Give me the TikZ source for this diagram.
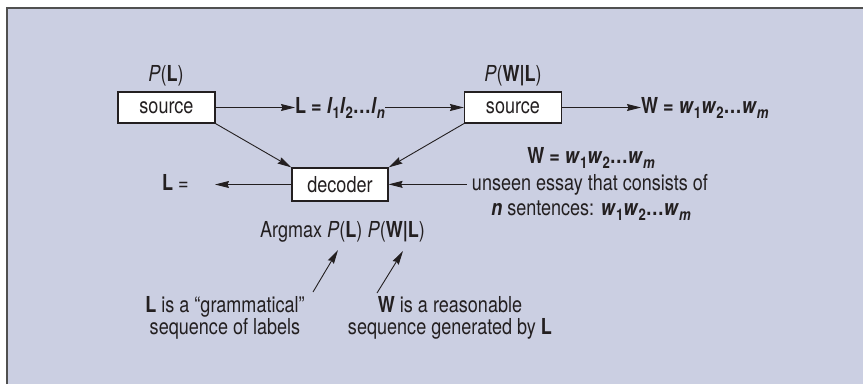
\documentclass[tikz,border=0pt]{standalone}
\usepackage{fontspec}
\setmainfont{TeX Gyre Heros}[FakeStretch=0.82]
\usetikzlibrary{arrows.meta}
\definecolor{bg}{RGB}{203,207,226}
\definecolor{ink}{RGB}{35,31,32}
\definecolor{framec}{RGB}{80,80,80}
\newcommand\lsub[1]{\raisebox{-0.25em}{\fontsize{16}{16}\selectfont #1}}
\newcommand\bi[1]{\textbf{\textit{#1}}}
\begin{document}
\begin{tikzpicture}[x=1pt,y=-1pt,
  every node/.style={text=ink, font=\fontsize{22}{25}\selectfont, inner sep=0pt},
  box/.style={draw=ink, fill=white, line width=1.2pt, minimum width=97pt, minimum height=31pt},
  arr/.style={draw=ink, line width=0.9pt, -{Stealth[length=14pt,width=7pt,inset=1.5pt]}}]
\useasboundingbox (0,0) rectangle (863,384);
\fill[white] (0,0) rectangle (863,384);
\fill[bg] (7,8) rectangle (863,384);
\draw[framec, line width=1.5pt] (7,384) -- (7,8) -- (863,8);

% boxes
\node[box] (src1) at (166.5,107.5) {source};
\node[box] (src2) at (513,107.5) {source};
\node[box, minimum width=96pt, minimum height=33pt] (dec) at (340,184.5) {decoder};

% labels above boxes
\node[anchor=base] (pl) at (166,81) {\textit{P}(\textbf{L})};
\node[anchor=base] (pwl) at (513,81) {\textit{P}(\textbf{W|L})};

% sequences
\node[anchor=base west] (lseq) at (295,113) {\textbf{L = }\bi{l}\lsub{\textbf{1}}\bi{l}\lsub{\textbf{2}}\textbf{\ldots}\bi{l}\lsub{\bi{n}}};
\node[anchor=base west] (wseq) at (641,113) {\textbf{W = }\bi{w}\lsub{\textbf{1}}\bi{w}\lsub{\textbf{2}}\textbf{\ldots}\bi{w}\lsub{\bi{m}}};

\draw[arr] (src1.east) -- (lseq.west |- src1.east);
\draw[arr] (lseq.east |- src2.west) -- (src2.west);
\draw[arr] (src2.east) -- (wseq.west |- src2.east);

% into decoder
\draw[arr] (src1.south east) -- (dec.north west);
\draw[arr] (src2.south west) -- (dec.north east);

% left output
\node[anchor=base west] (lout) at (162,190) {\textbf{L} =};
\coordinate (lend) at (215,184.5);
\draw[arr] (dec.west) -- (lend);

% right input text
\node[anchor=base] (wobs) at (591,163) {\textbf{W = }\bi{w}\lsub{\textbf{1}}\bi{w}\lsub{\textbf{2}}\textbf{\ldots}\bi{w}\lsub{\bi{m}}};
\node[anchor=base] (essay) at (590,190) {unseen essay that consists of};
\node[anchor=base] (nsent) at (591,215) {\bi{n} sentences: \bi{w}\lsub{\textbf{1}}\bi{w}\lsub{\textbf{2}}\textbf{\ldots}\bi{w}\lsub{\bi{m}}};
\coordinate (estart) at ([xshift=-5pt]essay.west);
\draw[arr] (estart) -- (estart -| dec.east);

% argmax
\node[anchor=base] (argmax) at (342.5,237) {Argmax \textit{P}(\textbf{L}) \textit{P}(\textbf{W|L})};

% bottom notes
\node[anchor=base] (g1) at (225,312) {\textbf{L} is a “grammatical”};
\node[anchor=base] (g2) at (225,334) {sequence of labels};
\node[anchor=base] (r1) at (450,312) {\textbf{W} is a reasonable};
\node[anchor=base] (r2) at (450,334) {sequence generated by \textbf{L}};

\coordinate (t1) at (313,292);
\coordinate (h1) at (338,250);
\coordinate (t2) at (377,293);
\coordinate (h2) at (403,251);
\draw[arr] (t1) -- (h1);
\draw[arr] (t2) -- (h2);
\end{tikzpicture}
\end{document}
